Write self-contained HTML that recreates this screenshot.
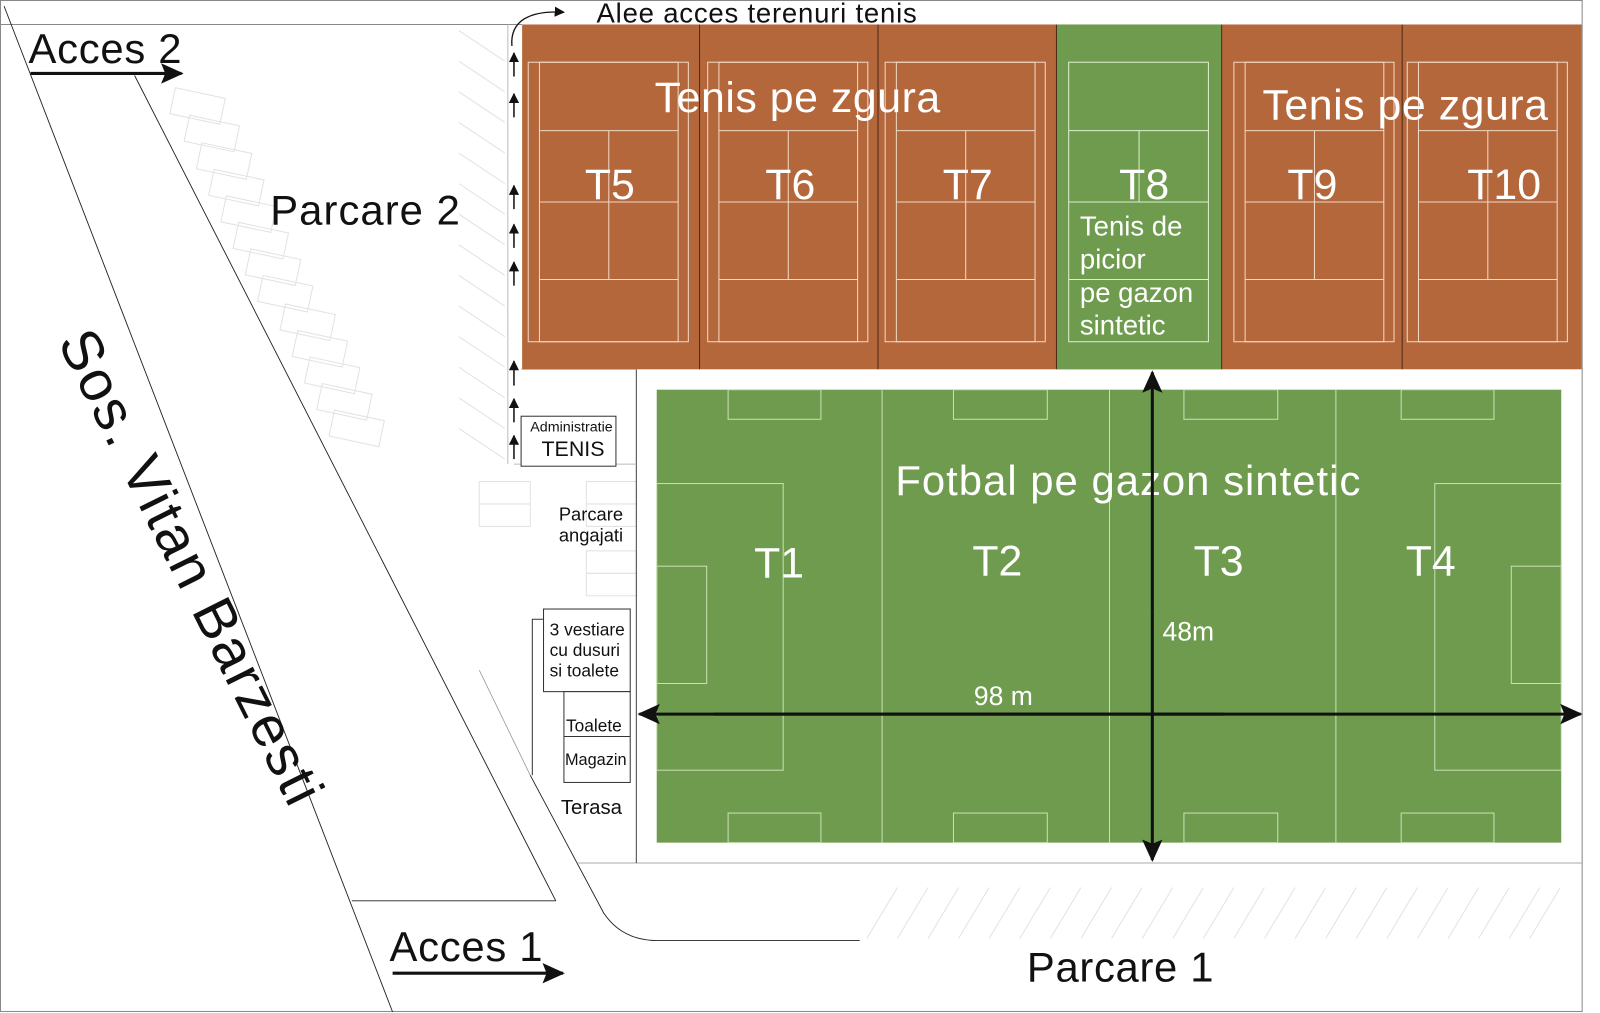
<!DOCTYPE html>
<html><head><meta charset="utf-8"><style>
html,body{margin:0;padding:0;background:#fff;width:1600px;height:1013px;overflow:hidden}
svg{display:block}
text{font-family:"Liberation Sans",Arial,sans-serif}
</style></head><body>
<svg width="1600" height="1013" viewBox="0 0 1569 993" preserveAspectRatio="none" xmlns="http://www.w3.org/2000/svg">
<defs>
<marker id="ah" markerWidth="10" markerHeight="10" refX="9" refY="5" orient="auto" markerUnits="userSpaceOnUse"><path d="M0,0 L10,5 L0,10 z" fill="#111"/></marker>
<marker id="big" markerWidth="22" markerHeight="20" refX="20" refY="10" orient="auto" markerUnits="userSpaceOnUse"><path d="M0,0 L22,10 L0,20 L4,10 z" fill="#111"/></marker>
</defs>
<rect x="0.5" y="0.5" width="1551" height="991" fill="#fff" stroke="#888" stroke-width="1"/>
<line x1="0" y1="24" x2="512" y2="24" stroke="#888"/>
<g stroke="#e2e2e2" fill="none" stroke-width="1">
<rect x="172" y="86" width="50" height="26" transform="rotate(12 172 86)"/>
<rect x="186" y="113" width="50" height="26" transform="rotate(12 186 113)"/>
<rect x="198" y="140" width="50" height="26" transform="rotate(12 198 140)"/>
<rect x="210" y="166" width="50" height="26" transform="rotate(12 210 166)"/>
<rect x="222" y="192" width="50" height="26" transform="rotate(12 222 192)"/>
<rect x="234" y="218" width="50" height="26" transform="rotate(12 234 218)"/>
<rect x="246" y="244" width="50" height="26" transform="rotate(12 246 244)"/>
<rect x="258" y="270" width="50" height="26" transform="rotate(12 258 270)"/>
<rect x="280" y="298" width="50" height="26" transform="rotate(12 280 298)"/>
<rect x="292" y="324" width="50" height="26" transform="rotate(12 292 324)"/>
<rect x="304" y="350" width="50" height="26" transform="rotate(12 304 350)"/>
<rect x="316" y="376" width="50" height="26" transform="rotate(12 316 376)"/>
<rect x="328" y="402" width="50" height="26" transform="rotate(12 328 402)"/>
<path d="M450,30 l45,30 M450,60 l45,30 M450,90 l45,30 M450,120 l45,30 M450,150 l45,30 M450,180 l45,30 M450,210 l45,30 M450,240 l45,30 M450,270 l45,30 M450,300 l45,30 M450,330 l45,30 M450,360 l45,30 M450,390 l45,30 M450,420 l45,30"/>
<rect x="470" y="472" width="50" height="22"/><rect x="470" y="494" width="50" height="22"/>
<rect x="575" y="472" width="49" height="22"/><rect x="575" y="494" width="49" height="22"/><rect x="575" y="540" width="49" height="22"/><rect x="575" y="562" width="49" height="22"/>
<path d="M850,920 l30,-50 M880,920 l30,-50 M910,920 l30,-50 M940,920 l30,-50 M970,920 l30,-50 M1000,920 l30,-50 M1030,920 l30,-50 M1060,920 l30,-50 M1090,920 l30,-50 M1120,920 l30,-50 M1150,920 l30,-50 M1180,920 l30,-50 M1210,920 l30,-50 M1240,920 l30,-50 M1270,920 l30,-50 M1300,920 l30,-50 M1330,920 l30,-50 M1360,920 l30,-50 M1390,920 l30,-50 M1420,920 l30,-50 M1450,920 l30,-50 M1480,920 l30,-50 M1500,920 l30,-50"/>
</g>
<g stroke="#222" fill="none" stroke-width="0.9">
<line x1="4" y1="6" x2="385" y2="992"/>
<line x1="132" y1="74" x2="545" y2="883"/>
<line x1="345" y1="883" x2="545" y2="883"/>
<path d="M520,760 L592,895 Q610,922 645,922 L843,922"/>
</g>
<line x1="470" y1="657" x2="520" y2="760" stroke="#999" stroke-width="0.8"/>
<line x1="567" y1="846" x2="1551" y2="846" stroke="#aaa"/>
<line x1="624" y1="362" x2="624" y2="846" stroke="#444"/>
<line x1="511" y1="362" x2="624" y2="362" stroke="#bbb"/>
<line x1="504" y1="455" x2="624" y2="455" stroke="#bbb"/>
<line x1="498" y1="24" x2="498" y2="455" stroke="#bbb"/>
<path d="M502,45 C500,20 520,10 553,12" stroke="#111" fill="none" stroke-width="1.3" marker-end="url(#ah)"/>
<g stroke="#111" stroke-width="1.5" marker-end="url(#ah)">
<line x1="504" y1="75" x2="504" y2="52"/>
<line x1="504" y1="115" x2="504" y2="92"/>
<line x1="504" y1="205" x2="504" y2="182"/>
<line x1="504" y1="243" x2="504" y2="220"/>
<line x1="504" y1="280" x2="504" y2="257"/>
<line x1="504" y1="378" x2="504" y2="354"/>
<line x1="504" y1="414" x2="504" y2="391"/>
<line x1="504" y1="450" x2="504" y2="427"/>
</g>
<text x="585" y="22" font-size="27" fill="#111" textLength="314">Alee acces terenuri tenis</text>
<rect x="512" y="24" width="1039" height="338" fill="#b5673c"/>
<rect x="1036" y="24" width="162" height="338" fill="#6e9b4e"/>
<g stroke="#4a2a18" stroke-width="1"><line x1="686" y1="24" x2="686" y2="362"/><line x1="861" y1="24" x2="861" y2="362"/><line x1="1036" y1="24" x2="1036" y2="362"/><line x1="1198" y1="24" x2="1198" y2="362"/><line x1="1375" y1="24" x2="1375" y2="362"/></g>
<g stroke="#f0d9c4" stroke-width="1" fill="none">
<g id="c"><rect x="518" y="61" width="157" height="274"/><rect x="529" y="61" width="136" height="274"/><line x1="529" y1="128" x2="665" y2="128"/><line x1="529" y1="198" x2="665" y2="198"/><line x1="529" y1="274" x2="665" y2="274"/><line x1="597" y1="128" x2="597" y2="274"/></g>
<use href="#c" x="176"/><use href="#c" x="350"/><use href="#c" x="692"/><use href="#c" x="862"/>
</g>
<g stroke="#dfeecf" fill="none" stroke-width="1"><rect x="1048" y="61" width="137" height="274"/><line x1="1048" y1="128" x2="1185" y2="128"/><line x1="1048" y1="198" x2="1185" y2="198"/><line x1="1048" y1="274" x2="1185" y2="274"/><line x1="1117" y1="128" x2="1117" y2="198"/></g>
<g fill="#fff" font-size="42">
<text x="642" y="110" textLength="280">Tenis pe zgura</text>
<text x="1238" y="117" textLength="280">Tenis pe zgura</text>
<g text-anchor="middle"><text x="598" y="195">T5</text><text x="775" y="195">T6</text><text x="949" y="195">T7</text><text x="1122" y="195">T8</text><text x="1287" y="195">T9</text><text x="1475" y="195">T10</text></g>
</g>
<g fill="#fff" font-size="27"><text x="1059" y="231">Tenis de</text><text x="1059" y="263">picior</text><text x="1059" y="296">pe gazon</text><text x="1059" y="328">sintetic</text></g>
<rect x="644" y="382" width="887" height="444" fill="#6e9b4e"/>
<g stroke="#c9e0b5" fill="none" stroke-width="1">
<line x1="865" y1="382" x2="865" y2="826"/><line x1="1088" y1="382" x2="1088" y2="826"/><line x1="1310" y1="382" x2="1310" y2="826"/>
<rect x="714" y="382" width="91" height="29"/><rect x="935" y="382" width="92" height="29"/><rect x="1161" y="382" width="92" height="29"/><rect x="1374" y="382" width="91" height="29"/>
<rect x="714" y="797" width="91" height="29"/><rect x="935" y="797" width="92" height="29"/><rect x="1161" y="797" width="92" height="29"/><rect x="1374" y="797" width="91" height="29"/>
<rect x="644" y="474" width="124" height="281"/><rect x="644" y="555" width="49" height="115"/>
<rect x="1407" y="474" width="124" height="281"/><rect x="1482" y="555" width="49" height="115"/>
</g>
<g fill="#fff"><text x="878" y="485" font-size="41" textLength="456">Fotbal pe gazon sintetic</text>
<g font-size="42" text-anchor="middle"><text x="764" y="566">T1</text><text x="978" y="564">T2</text><text x="1195" y="564">T3</text><text x="1403" y="564">T4</text></g>
<text x="1140" y="628" font-size="26">48m</text><text x="955" y="691" font-size="26">98 m</text></g>
<g stroke="#111" stroke-width="3">
<line x1="700" y1="700" x2="1550" y2="700" marker-end="url(#big)"/>
<line x1="1200" y1="700" x2="627" y2="700" marker-end="url(#big)"/>
<line x1="1130" y1="600" x2="1130" y2="365" marker-end="url(#big)"/>
<line x1="1130" y1="600" x2="1130" y2="843" marker-end="url(#big)"/>
</g>
<g stroke="#333" fill="#fff" stroke-width="1">
<rect x="511" y="408" width="93" height="49"/>
<path d="M533,607 L522,607 L522,760" fill="none"/>
<rect x="533" y="597" width="85" height="81"/>
<rect x="553" y="678" width="65" height="89"/>
<line x1="553" y1="722" x2="618" y2="722"/>
</g>
<g fill="#111">
<text x="520" y="423" font-size="14">Administratie</text>
<text x="531" y="447" font-size="21">TENIS</text>
<text x="548" y="510" font-size="18">Parcare</text><text x="548" y="531" font-size="18">angajati</text>
<text x="539" y="623" font-size="17">3 vestiare</text><text x="539" y="643" font-size="17">cu dusuri</text><text x="539" y="663" font-size="17">si toalete</text>
<text x="555" y="717" font-size="17">Toalete</text><text x="554" y="750" font-size="16">Magazin</text>
<text x="550" y="798" font-size="20">Terasa</text>
<text x="28" y="62" font-size="41" textLength="150">Acces 2</text>
<text x="265" y="220" font-size="41" textLength="186">Parcare 2</text>
<text x="382" y="942" font-size="41" textLength="150">Acces 1</text>
<text x="1007" y="962" font-size="41" textLength="183">Parcare 1</text>
<text x="0" y="0" font-size="56" textLength="512" transform="translate(56,335) rotate(63.5)">Sos. Vitan Barzesti</text>
</g>
<g stroke="#111" stroke-width="3"><line x1="30" y1="72" x2="178" y2="72" marker-end="url(#big)"/><line x1="385" y1="954" x2="552" y2="954" marker-end="url(#big)"/></g>
</svg>
</body></html>
